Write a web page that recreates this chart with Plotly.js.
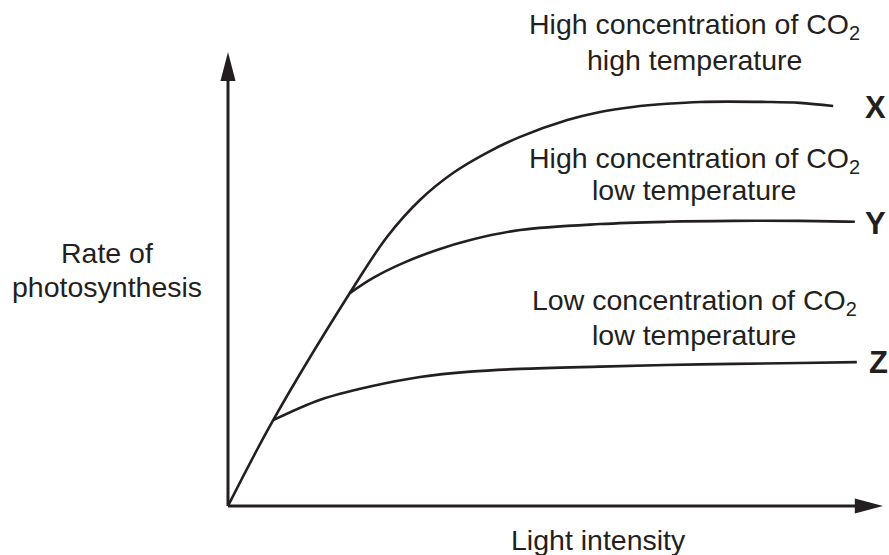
<!DOCTYPE html>
<html>
<head>
<meta charset="utf-8">
<script src="https://cdn.plot.ly/plotly-3.0.1.min.js"></script>
<style>html,body{margin:0;padding:0;background:#fff;}#chart{width:889px;height:555px;}</style>
</head>
<body>
<div id="chart"></div>
<script>
// Curve X: high CO2, high temperature
const xX = [0, 0.69, 1.86, 2.43, 2.93, 3.44, 3.95, 4.46, 5.18, 5.68, 6.18, 6.70, 7.21, 8.23, 8.73, 9.24];
const yX = [0, 1.89, 4.69, 5.93, 6.74, 7.34, 7.78, 8.13, 8.50, 8.68, 8.79, 8.86, 8.90, 8.90, 8.88, 8.81];
// Curve Y: high CO2, low temperature (branches from X)
const xY = [1.86, 2.21, 2.67, 3.19, 3.70, 4.46, 5.68, 6.70, 7.71, 8.73, 9.57];
const yY = [4.69, 5.02, 5.35, 5.64, 5.86, 6.08, 6.21, 6.26, 6.28, 6.28, 6.26];
// Curve Z: low CO2, low temperature (branches from X)
const xZ = [0.69, 1.41, 2.17, 2.93, 3.70, 4.46, 5.68, 7.21, 8.73, 9.60];
const yZ = [1.89, 2.34, 2.63, 2.84, 2.96, 3.02, 3.07, 3.12, 3.15, 3.17];

const curveNames = ["X", "Y", "Z"];
const labelLine1 = ["High concentration of CO<sub>2</sub>", "High concentration of CO<sub>2</sub>", "Low concentration of CO<sub>2</sub>"];
const labelLine2 = ["high temperature", "low temperature", "low temperature"];
const xTitle = "Light intensity";
const yTitle = ["Rate of", "photosynthesis"];

const ink = "#231f20";
const fontFam = "Liberation Sans, Arial, Helvetica, sans-serif";
const fs = 28.5;

const lineStyle = {color: ink, width: 2.6, shape: "spline", smoothing: 1};
const traces = [
  {x: xX, y: yX, mode: "lines", line: lineStyle, hoverinfo: "skip"},
  {x: xY, y: yY, mode: "lines", line: lineStyle, hoverinfo: "skip"},
  {x: xZ, y: yZ, mode: "lines", line: lineStyle, hoverinfo: "skip"}
];

function ann(text, x, y, opts) {
  return Object.assign({
    text: text, x: x, y: y, xref: "paper", yref: "paper",
    xanchor: "center", yanchor: "middle", showarrow: false,
    font: {family: fontFam, size: fs, color: ink}
  }, opts || {});
}

const blockX = 0.7115;
const line1Y = [1.0562, 0.7621, 0.4493];
const line2Y = [0.9824, 0.6960, 0.3767];
const nameY = [0.8767, 0.6233, 0.3150];
const nameX = [0.9893, 0.9893, 0.9924];

const annotations = [];
for (let i = 0; i < 3; i++) {
  annotations.push(ann(labelLine1[i], blockX, line1Y[i]));
  annotations.push(ann(labelLine2[i], blockX, line2Y[i]));
  annotations.push(ann("<b>" + curveNames[i] + "</b>", nameX[i], nameY[i], {font: {family: fontFam, size: 31, color: ink}}));
}
annotations.push(ann(yTitle[0], -0.1847, 0.5573));
annotations.push(ann(yTitle[1], -0.1847, 0.4824));
annotations.push(ann(xTitle, 0.5649, -0.0749));

const shapes = [
  {type: "line", xref: "paper", yref: "paper", x0: 0, y0: 0, x1: 0.96, y1: 0, line: {color: ink, width: 3}},
  {type: "line", xref: "paper", yref: "paper", x0: 0, y0: 0, x1: 0, y1: 0.94, line: {color: ink, width: 3}},
  {type: "path", xref: "paper", yref: "paper", path: "M 1 0 L 0.957 0.0165 L 0.957 -0.0165 Z", fillcolor: ink, line: {color: ink, width: 0}},
  {type: "path", xref: "paper", yref: "paper", path: "M 0 1 L 0.0115 0.936 L -0.0115 0.936 Z", fillcolor: ink, line: {color: ink, width: 0}}
];

const layout = {
  width: 889, height: 555, autosize: false,
  margin: {l: 228, r: 6, t: 52, b: 49, pad: 0},
  paper_bgcolor: "#ffffff", plot_bgcolor: "#ffffff",
  showlegend: false,
  xaxis: {range: [0, 10], showgrid: false, zeroline: false, showticklabels: false, ticks: "", showline: false, fixedrange: true},
  yaxis: {range: [0, 10], showgrid: false, zeroline: false, showticklabels: false, ticks: "", showline: false, fixedrange: true},
  annotations: annotations,
  shapes: shapes
};

Plotly.newPlot("chart", traces, layout, {displayModeBar: false, staticPlot: true});
</script>
</body>
</html>
